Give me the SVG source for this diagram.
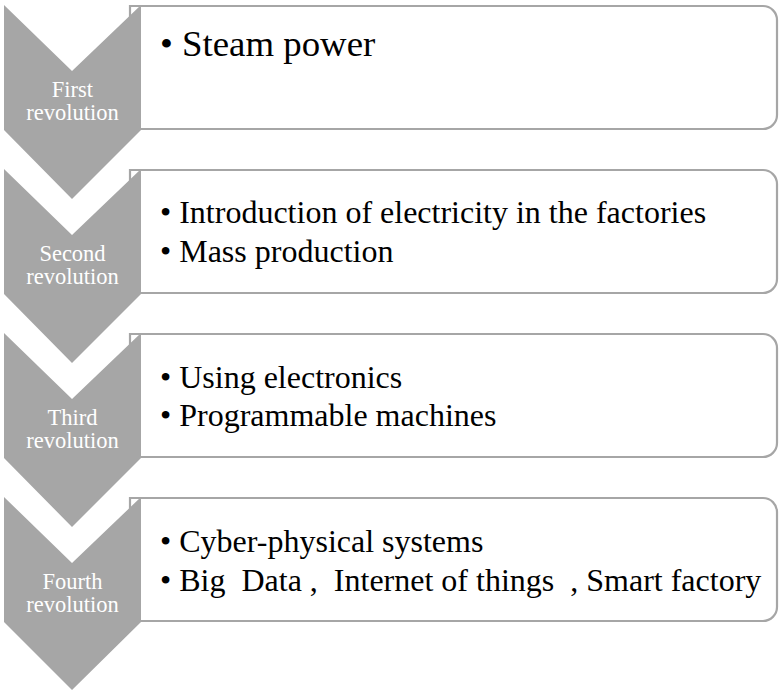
<svg xmlns="http://www.w3.org/2000/svg" width="779" height="692" viewBox="0 0 779 692">
<style>
.box{fill:#ffffff;stroke:#a6a6a6;stroke-width:2.2}
.chev{fill:#a6a6a6}
.lbl{font-family:"Liberation Serif","Times New Roman",serif;font-size:22.5px;fill:#ffffff;text-anchor:middle}
.txt{font-family:"Liberation Serif","Times New Roman",serif;font-size:32px;fill:#000000;white-space:pre}
.big{font-size:36.8px}
</style>
<rect width="779" height="692" fill="#ffffff"/>
<g id="stage1">
<path class="box" d="M130,6 H763 A14,14 0 0 1 777,20 V115 A14,14 0 0 1 763,129 H130 Z"/>
<path class="chev" d="M4,5 L72,71 L141,5 V130 L72,199 L4,130 Z"/>
<text class="lbl" x="72.5" y="97">First</text>
<text class="lbl" x="72.5" y="120">revolution</text>
<text class="txt big" x="160" y="55.5">• Steam power</text>
</g>
<g id="stage2">
<path class="box" d="M130,170 H763 A14,14 0 0 1 777,184 V279 A14,14 0 0 1 763,293 H130 Z"/>
<path class="chev" d="M4,169 L72,235 L141,169 V294 L72,363 L4,294 Z"/>
<text class="lbl" x="72.5" y="261">Second</text>
<text class="lbl" x="72.5" y="284">revolution</text>
<text class="txt" x="160" y="223">• Introduction of electricity in the factories</text>
<text class="txt" x="160" y="262">• Mass production</text>
</g>
<g id="stage3">
<path class="box" d="M130,334 H763 A14,14 0 0 1 777,348 V443 A14,14 0 0 1 763,457 H130 Z"/>
<path class="chev" d="M4,333 L72,399 L141,333 V458 L72,527 L4,458 Z"/>
<text class="lbl" x="72.5" y="425">Third</text>
<text class="lbl" x="72.5" y="448">revolution</text>
<text class="txt" x="160" y="388">• Using electronics</text>
<text class="txt" x="160" y="426">• Programmable machines</text>
</g>
<g id="stage4">
<path class="box" d="M130,498 H763 A14,14 0 0 1 777,512 V607 A14,14 0 0 1 763,621 H130 Z"/>
<path class="chev" d="M4,497 L72,563 L141,497 V622 L72,690 L4,622 Z"/>
<text class="lbl" x="72.5" y="589">Fourth</text>
<text class="lbl" x="72.5" y="612">revolution</text>
<text class="txt" x="160" y="552">• Cyber-physical systems</text>
<text class="txt" x="160" y="591" xml:space="preserve">• Big  Data ,  Internet of things  , Smart factory</text>
</g>
<g id="connectors"></g>
</svg>
